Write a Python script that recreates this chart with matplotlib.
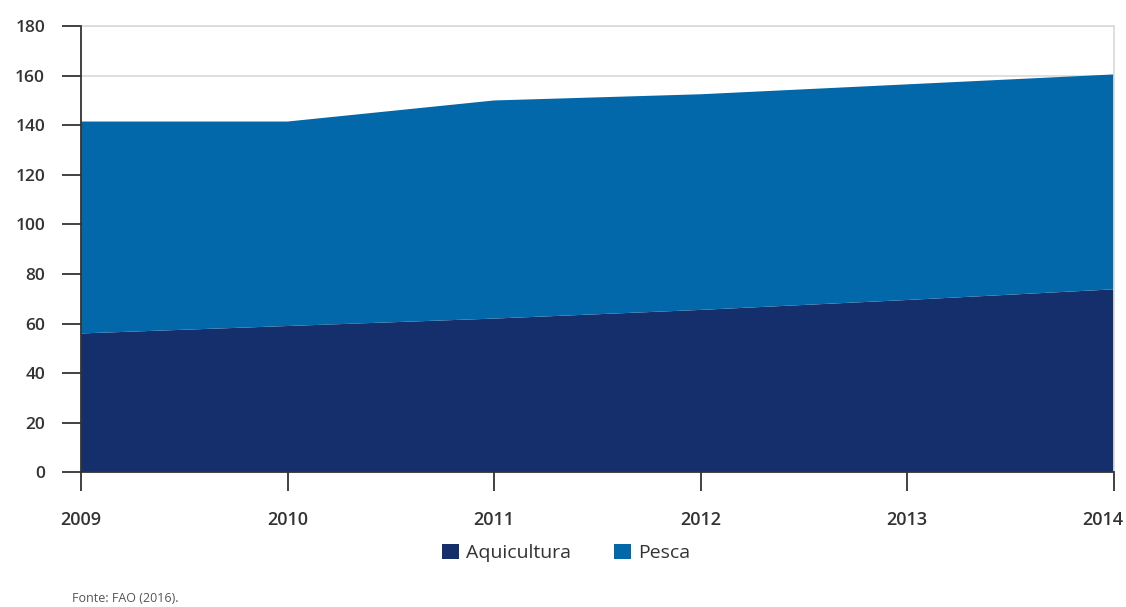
import matplotlib
matplotlib.use("Agg")
import matplotlib.pyplot as plt
from matplotlib.patches import Patch
from matplotlib.transforms import offset_copy

# Data (milhões de toneladas)
anos = [2009, 2010, 2011, 2012, 2013, 2014]
aquicultura = [56.0, 59.0, 62.0, 65.5, 69.5, 73.8]
pesca = [85.5, 82.5, 88.0, 87.0, 87.0, 86.7]
y_ticks = [0, 20, 40, 60, 80, 100, 120, 140, 160, 180]

cor_aqui = "#152f6c"
cor_pesca = "#0268aa"
cor_texto = "#333333"

plt.rcParams["font.family"] = ["Open Sans", "DejaVu Sans"]

fig = plt.figure(figsize=(11.26, 6.07), dpi=100)
ax = fig.add_axes([0.072, 0.222, 0.917, 0.735])

ax.stackplot(anos, aquicultura, pesca, colors=[cor_aqui, cor_pesca],
             linewidth=0, zorder=2)

ax.set_xlim(anos[0], anos[-1])
ax.set_ylim(0, 180)
ax.set_xticks(anos)
ax.set_yticks(y_ticks)

ax.yaxis.grid(True, color="#d9d9d9", linewidth=1.2, zorder=0)
ax.set_axisbelow(True)

for s in ["top", "right"]:
    ax.spines[s].set_color("#d9d9d9")
    ax.spines[s].set_linewidth(1.2)
for s in ["left", "bottom"]:
    ax.spines[s].set_color("#333333")
    ax.spines[s].set_linewidth(1.3)
    ax.spines[s].set_zorder(3)

ax.tick_params(axis="both", direction="out", length=14, width=1.3,
               color="#333333", labelcolor=cor_texto)
ax.tick_params(axis="y", pad=12, labelsize=12.5)
ax.tick_params(axis="x", pad=14, labelsize=13)
for lbl in ax.get_xticklabels() + ax.get_yticklabels():
    lbl.set_fontweight("semibold")

# last year label sits slightly inside the figure, as in the original
fig.canvas.draw()
ultimo = ax.get_xticklabels()[-1]
ultimo.set_transform(offset_copy(ultimo.get_transform(), fig=fig, x=-11, units="dots"))

handles = [Patch(facecolor=cor_aqui, label="Aquicultura"),
           Patch(facecolor=cor_pesca, label="Pesca")]
leg = fig.legend(handles=handles, loc="center", bbox_to_anchor=(0.503, 0.089),
                 ncol=2, frameon=False, fontsize=14, handlelength=0.85,
                 handleheight=0.85, handletextpad=0.4, columnspacing=2.2)
for t in leg.get_texts():
    t.set_color(cor_texto)

fig.text(0.064, 0.008, "Fonte: FAO (2016).", fontsize=9, color="#555555")

fig.savefig("out.png", dpi=100, facecolor="white")
